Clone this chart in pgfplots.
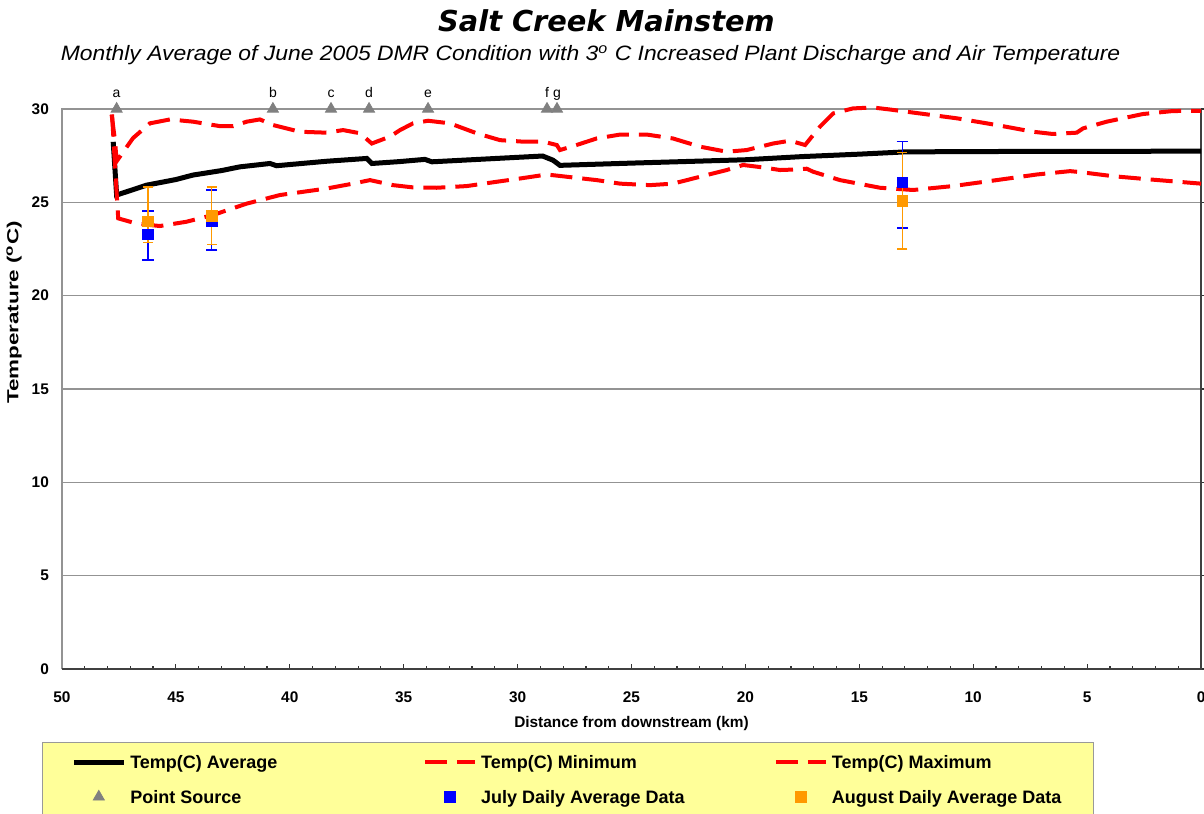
\documentclass[border=0pt]{standalone}
\usepackage{pgfplots}
\pgfplotsset{compat=1.18}
\usepackage{pgfplotstable}
\usepackage{fontspec}
\setmainfont{Liberation Sans}
\newfontfamily\titlefont{DejaVu Sans}
\definecolor{legfill}{HTML}{FFFF99}
\definecolor{augorange}{HTML}{FF9900}
\definecolor{psgray}{HTML}{808080}

% distance (km), temperature (C)
\pgfplotstableread{
x y
47.75 28.24
47.60 25.39
46.28 25.92
45.00 26.22
44.25 26.46
43.00 26.70
42.19 26.90
40.87 27.08
40.58 26.96
38.38 27.20
36.62 27.35
36.40 27.08
35.20 27.18
34.07 27.30
33.76 27.17
28.90 27.48
28.45 27.26
28.14 26.98
25.00 27.10
20.00 27.28
17.50 27.45
15.00 27.58
13.00 27.70
10.00 27.72
5.00 27.73
0.00 27.74
}\avgdata

\pgfplotstableread{
x y
47.80 29.70
47.65 26.50
47.53 24.14
46.72 23.86
45.70 23.73
44.53 23.96
43.37 24.32
41.89 24.93
40.43 25.39
38.38 25.74
37.23 26.00
36.48 26.19
35.47 25.92
34.59 25.80
33.55 25.78
32.23 25.87
30.92 26.10
29.76 26.30
28.72 26.49
27.84 26.37
26.53 26.19
25.50 26.00
24.19 25.92
23.18 26.00
21.99 26.37
20.82 26.73
20.10 27.00
19.23 26.87
18.48 26.73
17.75 26.76
17.31 26.80
17.03 26.64
15.85 26.19
14.09 25.78
12.64 25.66
10.89 25.87
8.97 26.19
7.21 26.49
5.75 26.67
5.31 26.62
3.86 26.40
2.38 26.24
0.00 26.00
}\mindata

\pgfplotstableread{
x y
47.82 29.70
47.67 28.30
47.60 27.20
46.88 28.44
46.14 29.23
45.26 29.44
44.25 29.32
43.06 29.08
42.49 29.08
41.89 29.32
41.31 29.44
40.74 29.14
39.55 28.78
38.38 28.73
37.66 28.87
36.92 28.70
36.40 28.15
35.60 28.52
35.16 28.87
34.59 29.23
33.93 29.37
32.97 29.23
31.80 28.70
30.77 28.33
29.76 28.25
28.88 28.25
28.28 28.07
28.14 27.80
27.41 28.07
26.53 28.42
25.50 28.63
24.33 28.63
23.18 28.42
21.99 27.98
20.82 27.71
19.94 27.80
18.79 28.15
18.04 28.30
17.38 28.07
16.73 29.05
16.15 29.76
15.28 30.03
14.40 30.08
13.65 29.97
12.34 29.76
10.72 29.50
8.97 29.14
7.37 28.78
6.50 28.66
5.46 28.73
5.18 28.96
4.14 29.32
2.55 29.73
1.23 29.89
0.00 29.90
}\maxdata

\pgfplotstableread{
x y label
47.60 30 a
40.74 30 b
38.19 30 c
36.52 30 d
33.93 30 e
28.71 30 f
28.27 30 g
}\psdata

\pgfplotstableread{
x y ep em
46.22 23.28 1.27 1.38
43.43 23.97 1.69 1.53
13.11 26.07 2.19 2.43
}\julydata

\pgfplotstableread{
x y ep em
46.22 23.97 1.86 1.13
43.43 24.26 1.57 1.51
13.11 25.07 2.59 2.57
}\augdata

\pgfplotsset{
  myleg/.style={legend image code/.code={
    \path (-9pt,0pt);
    \draw[mark repeat=2,mark phase=2,##1] plot coordinates {(0pt,0pt) (12.5pt,0pt) (25pt,0pt)};}},
}

\begin{document}
\begin{tikzpicture}
\begin{axis}[
  width=569.5pt, height=280pt, scale only axis,
  xmin=0, xmax=50, ymin=0, ymax=30, x dir=reverse,
  clip=false,
  axis line style={draw=none},
  xtick={0,5,...,50}, minor x tick num=4,
  ytick={0,5,...,30},
  xtick pos=left, xtick align=inside,
  ytick pos=right, yticklabel pos=left, ytick align=outside,
  major tick length=2.6pt, minor tick length=1.7pt,
  tick style={black!80, line width=0.6pt},
  ymajorgrids, grid style={gray!85, line width=0.6pt},
  /pgf/number format/assume math mode=true,
  ticklabel style={font=\bfseries\fontsize{7.7}{9}\selectfont},
  xticklabel style={yshift=-8pt},
  yticklabel style={xshift=-0.4pt},
  xlabel={Distance from downstream (km)},
  xlabel style={at={(axis description cs:0.5,-0.097)}, anchor=center, font=\bfseries\fontsize{7.7}{9}\selectfont},
  ylabel={\scalebox{1.4}[1]{Temperature (\textsuperscript{o}C)}},
  ylabel style={at={(axis description cs:-0.042,0.637)}, anchor=center, font=\bfseries\fontsize{8}{9}\selectfont},
  legend columns=3,
  legend cell align=left,
  legend style={at={(-0.0176,-0.130)}, anchor=north west, draw=gray!80, fill=legfill,
    inner xsep=5.5pt, inner ysep=3.5pt, row sep=4pt,
    font=\bfseries\fontsize{9}{11}\selectfont},
  myleg,
]
\draw[gray!85, line width=0.6pt] (axis description cs:0,0) -- (axis description cs:0,1) -- (axis description cs:1,1);
\draw[black!75, line width=1pt] (axis description cs:0,0) -- (axis description cs:1,0) -- (axis description cs:1,1);

\addplot[black, line width=2.5pt, myleg] table[x=x, y=y] {\avgdata};
\addlegendentry{\makebox[135.4pt][l]{\strut Temp(C) Average}}
\addplot[red, line width=2pt, dash pattern=on 11pt off 5pt, myleg] table[x=x, y=y] {\mindata};
\addlegendentry{\makebox[135.4pt][l]{\strut Temp(C) Minimum}}
\addplot[red, line width=2pt, dash pattern=on 11pt off 5pt, myleg] table[x=x, y=y] {\maxdata};
\addlegendentry{\makebox[123.4pt][l]{\strut Temp(C) Maximum}}

\addplot[only marks, mark=triangle*, mark size=3.2pt, color=psgray, myleg,
  point meta=explicit symbolic, nodes near coords,
  every node near coord/.append style={font=\mdseries\fontsize{7}{8}\selectfont, text=black, anchor=base, yshift=5.5pt, inner sep=0pt}]
  table[x=x, y=y, meta=label] {\psdata};
\addlegendentry{\makebox[135.4pt][l]{\strut Point Source}}

\addplot[only marks, mark=square*, mark size=2.65pt, color=blue, myleg,
  error bars/.cd, y dir=both, y explicit,
  error bar style={line width=0.8pt, blue},
  error mark options={rotate=90, mark size=2.9pt, line width=0.8pt, blue}]
  table[x=x, y=y, y error plus=ep, y error minus=em] {\julydata};
\addlegendentry{\makebox[135.4pt][l]{\strut July Daily Average Data}}

\addplot[only marks, mark=square*, mark size=2.65pt, color=augorange, myleg,
  error bars/.cd, y dir=both, y explicit,
  error bar style={line width=0.8pt, augorange},
  error mark options={rotate=90, mark size=2.5pt, line width=0.8pt, augorange}]
  table[x=x, y=y, y error plus=ep, y error minus=em] {\augdata};
\addlegendentry{\makebox[123.4pt][l]{\strut August Daily Average Data}}

\node[font=\titlefont\bfseries\itshape\fontsize{14.4}{17}\selectfont] at (axis description cs:0.478,1.157) {Salt Creek Mainstem};
\node[font=\itshape\fontsize{10.4}{12}\selectfont] at (axis description cs:0.464,1.096) {\scalebox{1.1}[1]{Monthly Average of June 2005 DMR Condition with 3\textsuperscript{o} C Increased Plant Discharge and Air Temperature}};

\coordinate (bbA) at (axis description cs:-0.0544,-0.2571);
\coordinate (bbB) at (axis description cs:1.0026,1.1946);
\end{axis}
\pgfresetboundingbox
\path[use as bounding box] (bbA) rectangle (bbB);
\end{tikzpicture}
\end{document}
